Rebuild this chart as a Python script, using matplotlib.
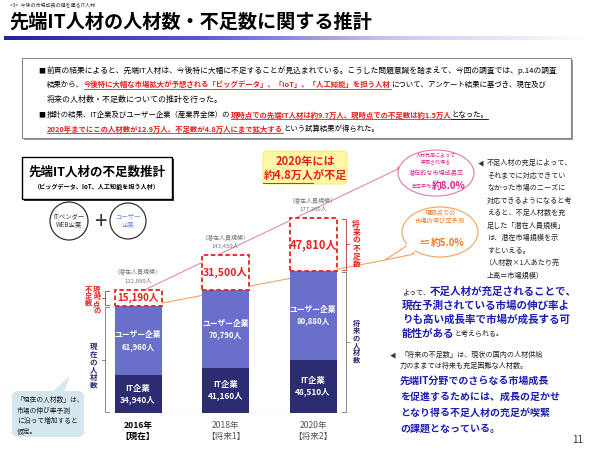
import matplotlib
matplotlib.use('Agg')
import matplotlib.pyplot as plt
import numpy as np
from matplotlib.patches import Rectangle, FancyBboxPatch, Circle, Ellipse, Polygon
from matplotlib.colors import LinearSegmentedColormap

plt.rcParams['font.family'] = ['Noto Sans CJK JP', 'DejaVu Sans']

# ---------------- data ----------------
years = ['2016年', '2018年', '2020年']
periods = ['【現在】', '【将来1】', '【将来2】']
it_firms = [34940, 41160, 48510]
user_firms = [61960, 70790, 80880]
shortage = [15190, 31500, 47810]
potential = [112090, 143450, 177200]
seg_labels = ['IT企業', 'ユーザー企業']

W, H = 590, 449
fig = plt.figure(figsize=(W / 100, H / 100), dpi=100)
bg = fig.add_axes([0, 0, 1, 1])
bg.axis('off')
R = fig.canvas.get_renderer()

RED = '#e8201e'
NAVY = '#2b2c72'
SLATE = '#6b6fcc'
BLUE = '#1e1eb4'
GRAY = '#777777'

# ---------- header ----------
cmap = LinearSegmentedColormap.from_list('g', ['#23239a', '#5a5ad0', '#c8c8ef', '#ffffff'])
grad = np.linspace(0, 1, 256).reshape(1, -1)
bg.imshow(grad, extent=[4, 590, 40, 36], cmap=cmap, aspect='auto', zorder=1)
bg.set_xlim(0, W)
bg.set_ylim(H, 0)

bg.text(10, 6, '<3>  今後の市場成長の鍵を握るIT人材', fontsize=3.6, color='#333333', va='center')
bg.text(9, 22, '先端IT人材の人材数・不足数に関する推計', fontsize=13.8, fontweight='bold',
        color='black', va='center')

# ---------- main text box ----------
bg.add_patch(Rectangle((24, 60), 549, 80, facecolor='#999999', edgecolor='none', zorder=1))
bg.add_patch(Rectangle((22, 58), 549, 80, facecolor='white', edgecolor='#888888', lw=0.8, zorder=2))


def _w(s, fs, weight):
    t = bg.text(0, 0, s, fontsize=fs, fontweight=weight)
    w = t.get_window_extent(renderer=R).width
    t.remove()
    return w


def rich(x, y, segs, size=5.75, end=None):
    scale = 1.0
    if end is not None:
        tot = sum(_w(s, st.get('size', size), st.get('weight', 'normal')) for s, st in segs)
        scale = (end - x) / tot
    for s, st in segs:
        col = st.get('color', 'black')
        fs = st.get('size', size) * scale
        t = bg.text(x, y, s, fontsize=fs, color=col, fontweight=st.get('weight', 'normal'),
                    va='center', ha='left', zorder=5)
        w = t.get_window_extent(renderer=R).width
        if st.get('ul'):
            bg.plot([x, x + w], [y + fs * 0.78, y + fs * 0.78], color=col, lw=0.6, zorder=5)
        x += w
    return x


def vtext(x, y, s, size, color, anchor='center', step=None):
    st = step if step is not None else size * 100 / 72 * 1.1
    n = len(s)
    y0 = y - (n - 1) * st / 2 if anchor == 'center' else y + st / 2
    for k, ch in enumerate(s):
        bg.text(x, y0 + k * st, ch, fontsize=size, color=color, fontweight='bold',
                ha='center', va='center', zorder=4)


N = {}
RB = {'color': RED, 'weight': 'bold', 'ul': True}
bg.text(38, 71, '■', fontsize=5, va='center', zorder=5)
rich(47, 71, [('前頁の結果によると、先端IT人材は、今後特に大幅に不足することが見込まれている。こうした問題意識を踏まえて、今回の調査では、p.14の調査', N)], end=558)
rich(47, 85, [('結果から、', N), ('今後特に大幅な市場拡大が予想される「ビッグデータ」、「IoT」、「人工知能」を担う人材', RB),
              ('について、アンケート結果に基づき、現在及び', N)], end=550)
rich(47, 99, [('将来の人材数・不足数についての推計を行った。', N)])
bg.text(38, 115, '■', fontsize=5, va='center', zorder=5)
rich(47, 115, [('推計の結果、IT企業及びユーザー企業（産業界全体）の', N),
               ('現時点での先端IT人材は約9.7万人、現時点での不足数は約1.5万人', RB),
               ('となった。', {'ul': True})], end=490)
rich(47, 129, [('2020年までにこの人材数が12.9万人、不足数が4.8万人にまで拡大する', RB),
               ('という試算結果が得られた。', N)], end=378)

# ---------- chart title box ----------
bg.add_patch(Rectangle((24, 159), 150, 42, facecolor='#333333', edgecolor='none', zorder=2))
bg.add_patch(Rectangle((22, 157), 150, 42, facecolor='white', edgecolor='black', lw=1.0, zorder=3))
bg.text(97, 172, '先端IT人材の不足数推計', fontsize=9, fontweight='bold', ha='center', va='center', zorder=4)
bg.text(97, 187, '（ビッグデータ、IoT、人工知能を担う人材）', fontsize=4.4, fontweight='bold',
        ha='center', va='center', zorder=4)

bg.add_patch(Circle((69, 221), 19, facecolor='white', edgecolor='#333333', lw=0.9, zorder=3))
bg.text(69, 221, 'ITベンダー\nWEB企業', fontsize=4.6, ha='center', va='center', color='#333333',
        linespacing=1.1, zorder=4)
bg.text(100, 222, '+', fontsize=16, ha='center', va='center', color='#333333', zorder=4)
bg.add_patch(Circle((128, 221), 18, facecolor='white', edgecolor='#333333', lw=0.9, zorder=3))
bg.text(128, 221, 'ユーザー\n企業', fontsize=4.6, ha='center', va='center', color='#6f8fd8',
        linespacing=1.1, zorder=4)

# ---------- bar chart ----------
L, RR, B, T = 80, 372, 413, 190
pxu = 87.5
bax = fig.add_axes([L / W, (H - B) / H, (RR - L) / W, (B - T) / H])
bax.patch.set_alpha(0)
bax.axis('off')
bax.set_xlim((L - 138) / pxu, (RR - 138) / pxu)
bax.set_ylim(0, (B - T) / 1.1 * 1000)
bax.set_zorder(3)
x = np.arange(len(years))
bw = 47 / pxu
it = np.array(it_firms)
us = np.array(user_firms)
sh = np.array(shortage)
bax.bar(x, it, bw, color=NAVY, zorder=2)
bax.bar(x, us, bw, bottom=it, color=SLATE, zorder=2)
bax.bar(x, sh, bw, bottom=it + us, facecolor='white', edgecolor=RED, lw=1.3,
        linestyle=(0, (2.5, 1.5)), zorder=2)
bax.axhline(0, xmin=0.08, xmax=0.93, color='#999999', lw=0.8, zorder=1)

for i in range(len(years)):
    bax.text(x[i], it[i] / 2, f'{seg_labels[0]}\n{it[i]:,}人', color='white', fontsize=6.0,
             fontweight='bold', ha='center', va='center', linespacing=1.3, zorder=4)
    bax.text(x[i], it[i] + us[i] / 2, f'{seg_labels[1]}\n{us[i]:,}人', color='white', fontsize=5.6,
             fontweight='bold', ha='center', va='center', linespacing=1.35, zorder=4)
    bax.text(x[i], it[i] + us[i] + sh[i] / 2, f'{sh[i]:,}人', color=RED, fontsize=[7.0, 7.6, 8.0][i],
             fontweight='bold', ha='center', va='center', zorder=4)
    bax.annotate('（潜在人員規模）', (x[i], potential[i]), xytext=(0, 18), textcoords='offset pixels',
                 ha='center', va='center', fontsize=4.3, color=GRAY)
    bax.annotate(f'{potential[i]:,}人', (x[i], potential[i]), xytext=(0, 9), textcoords='offset pixels',
                 ha='center', va='center', fontsize=4.3, color=GRAY)
    bold = i == 0
    bax.annotate(f'{years[i]}\n{periods[i]}', (x[i], 0), xytext=(0, -18), textcoords='offset pixels',
                 ha='center', va='center', fontsize=6.2, linespacing=1.3,
                 fontweight='bold' if bold else 'normal', color='black' if bold else '#555555',
                 annotation_clip=False)


def to_bg(xd, yd):
    return bg.transData.inverted().transform(bax.transData.transform((xd, yd)))


# growth lines
p0 = to_bg(0.08, potential[0])
bg.plot([p0[0], 398], [p0[1], 169], color='#e889aa', lw=0.8, zorder=2)
o0 = to_bg(0.08, it_firms[0] + user_firms[0])
bg.plot([o0[0], 385], [o0[1], 260], color='#f2a25f', lw=0.8, zorder=2)


def bracket(xd, y0, y1, side, color):
    a = to_bg(xd, y0)
    b = to_bg(xd, y1)
    d = 4 if side == 'right' else -4
    xx = a[0]
    bg.plot([xx - d, xx, xx, xx - d], [a[1] - 1, a[1] - 1, b[1] + 1, b[1] + 1], color=color, lw=0.7, zorder=2)
    m = (a[1] + b[1]) / 2
    bg.plot([xx, xx + d * 0.6], [m, m], color=color, lw=0.7, zorder=2)
    return xx, a[1], b[1]


xr, ya, yb = bracket(2.38, it[2] + us[2], potential[2], 'right', '#c05050')
vtext(xr + 10, (ya + yb) / 2, '将来の不足数', 5.6, RED, step=8)
xr, ya, yb = bracket(2.38, 0, it[2] + us[2], 'right', '#888888')
vtext(xr + 10, (ya + yb) / 2, '将来の人材数', 5.2, NAVY, step=7.3)
xl, ya, yb = bracket(-0.38, it[0] + us[0], potential[0], 'left', '#c05050')
vtext(xl - 8, yb - 4, '現時点の', 5.2, RED, anchor='top', step=7)
vtext(xl - 16, yb - 4, '不足数', 5.2, RED, anchor='top', step=7)
xl, ya, yb = bracket(-0.38, 0, it[0] + us[0], 'left', '#888888')
vtext(xl - 11, (ya + yb) / 2 + 6, '現在の人材数', 5.4, NAVY, step=7.8)

# left-bottom bubble
bg.add_patch(Polygon([[52, 392], [64, 392], [70, 376]], closed=True, facecolor='#d5e7ee', edgecolor='none', zorder=3))
bg.add_patch(FancyBboxPatch((12, 391), 72, 46, boxstyle='round,pad=0,rounding_size=6',
                            facecolor='#d5e7ee', edgecolor='none', zorder=3))
bg.text(17, 396, '「現在の人材数」は、\n市場の伸び率予測\nに沿って増加すると\n仮定。', fontsize=4.9, va='top',
        ha='left', linespacing=1.45, color='#222222', zorder=4)

# yellow callout
bg.add_patch(FancyBboxPatch((263, 151), 84, 33, boxstyle='round,pad=0,rounding_size=5',
                            facecolor='#fff7a8', edgecolor='#fbee88', lw=1, zorder=3))
bg.text(305, 161, '2020年には', fontsize=8, fontweight='bold', color=RED, ha='center', va='center', zorder=4)
t = bg.text(305, 176, '約4.8万人が不足', fontsize=8, fontweight='bold', color=RED, ha='center', va='center', zorder=4)
bb = t.get_window_extent(renderer=R)
x0 = bb.x0
bg.plot([x0, x0 + bb.width * 0.6], [183, 183], color=RED, lw=0.7, zorder=4)

# pink bubble
bg.add_patch(Polygon([[397, 168], [410, 163], [410, 175]], closed=True, facecolor='white',
                     edgecolor='#e27aa6', lw=0.8, zorder=3))
bg.add_patch(Ellipse((436, 173), 76, 46, facecolor='white', edgecolor='#e27aa6', lw=0.8, zorder=3))
bg.add_patch(Polygon([[409, 164], [412, 164], [412, 174], [409, 174]], closed=True, facecolor='white',
                     edgecolor='none', zorder=3))
MAG = '#e2208a'
bg.text(436, 159, '人材充足によって\n実現され得る', fontsize=3.6, color=MAG, ha='center', va='center',
        linespacing=1.2, zorder=4)
bg.text(436, 173, '潜在的な市場成長率', fontsize=4.4, color=MAG, ha='center', va='center', zorder=4)
rich(412, 186, [('年率平均', {'color': MAG, 'size': 3.6}), ('約8.0%', {'color': MAG, 'size': 7, 'weight': 'bold'})])

# orange bubble
ORA = '#ef7a22'
bg.add_patch(Polygon([[385, 260], [408, 245], [414, 254]], closed=True, facecolor='white',
                     edgecolor='#f2a25f', lw=0.8, zorder=3))
bg.add_patch(Ellipse((440, 232), 76, 50, facecolor='white', edgecolor='#f2a25f', lw=0.8, zorder=3))
bg.add_patch(Polygon([[406, 244], [413, 244], [415, 252], [409, 252]], closed=True, facecolor='white',
                     edgecolor='none', zorder=3))
bg.text(440, 217, '現時点での\n市場の伸び率予測', fontsize=4.5, color=ORA, ha='center', va='center',
        linespacing=1.35, zorder=4)
rich(420, 243, [('年率', {'color': ORA, 'size': 3.8}), ('約5.0%', {'color': ORA, 'size': 7, 'weight': 'bold'})])

# right column text
bg.text(478, 163, '◀', fontsize=4.5, va='center', color='#333333')
right_lines = ['不足人材の充足によって、', 'それまでに対応できてい', 'なかった市場のニーズに',
               '対応できるようになると考', 'えると、不足人材数を充', '足した「潜在人員規模」',
               'は、潜在市場規模を示', 'すといえる。', '（人材数×1人あたり売', '上高＝市場規模）']
for k, ln in enumerate(right_lines):
    xx = 487 if k != 8 else 484
    bg.text(xx, 163 + k * 12.5, ln, fontsize=5.1, va='center', ha='left', color='#222222')

# blue conclusion
BB = {'color': BLUE, 'weight': 'bold', 'size': 7.6}
SM = {'color': '#222222', 'size': 5}
rich(402, 292, [('よって、', SM), ('不足人材が充足されることで、', BB)])
rich(402, 306, [('現在予測されている市場の伸び率よ', BB)])
rich(402, 320, [('りも高い成長率で市場が成長する可', BB)])
rich(402, 334, [('能性がある', BB), ('と考えられる。', SM)])

bg.text(390, 355, '◀', fontsize=4.5, va='center', color='#333333')
bg.text(400, 355, '「将来の不足数」は、現状の国内の人材供給', fontsize=5.1, va='center', color='#222222')
bg.text(400, 366, '力のままでは将来も充足困難な人材数。', fontsize=5.1, va='center', color='#222222')
for k, ln in enumerate(['先端IT分野でのさらなる市場成長', 'を促進するためには、成長の足かせ',
                        'となり得る不足人材の充足が喫緊', 'の課題となっている。']):
    bg.text(400, 381 + k * 16, ln, fontsize=7.2, fontweight='bold', color=BLUE, va='center')

bg.text(583, 440, '11', fontsize=7, ha='right', va='center', color='#333333')

bg.set_xlim(0, W)
bg.set_ylim(H, 0)
fig.savefig('out.png', dpi=100)
